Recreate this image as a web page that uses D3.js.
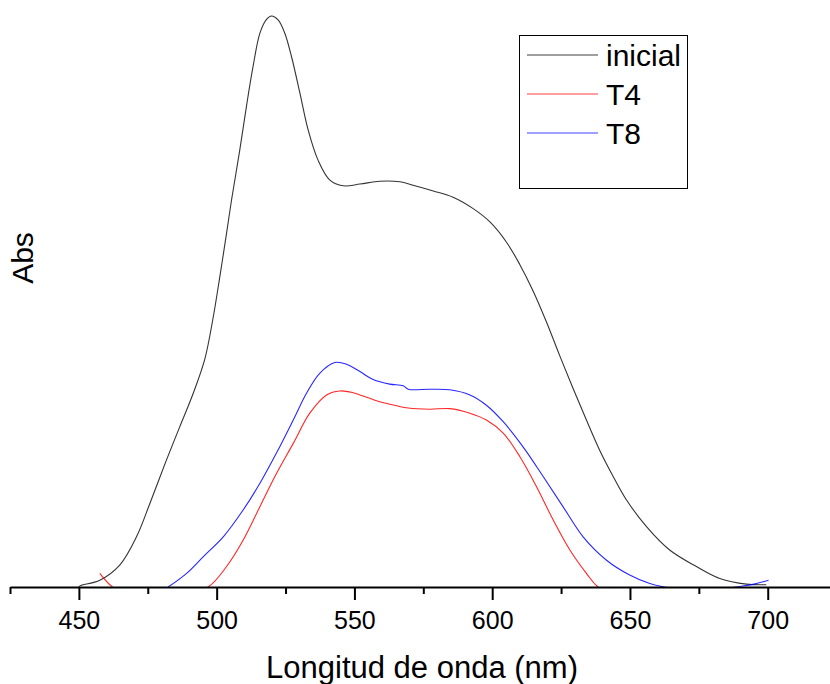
<!DOCTYPE html>
<html>
<head>
<meta charset="utf-8">
<script src="https://cdn.jsdelivr.net/npm/d3@7"></script>
<style>
  body { margin: 0; background: #fff; }
  svg { display: block; font-family: "Liberation Sans", Arial, sans-serif; }
</style>
</head>
<body>
<svg id="chart" width="830" height="684"></svg>
<script>
// wavelengths (nm) and absorbance
const inicial_nm = [450, 450.4, 457.6, 464.9, 470.9, 475.8, 481.8, 486.6, 491.5, 495.7, 498.7, 501.2, 503.6, 505.4, 508.4, 510.8, 513.2, 515.7, 518.1, 519.9, 522.3, 524.7, 527.2, 530.2, 533.2, 536.8, 541.1, 545.9, 552.0, 559.2, 566.5, 571.3, 578.6, 585.8, 593.1, 599.1, 605.2, 610.0, 614.8, 619.7, 624.5, 629.4, 634.2, 639.0, 643.9, 648.7, 656.0, 664.4, 674.1, 682.6, 692.3, 699.5];
const inicial_abs = [0, 0.002, 0.012, 0.039, 0.088, 0.147, 0.223, 0.281, 0.340, 0.400, 0.472, 0.546, 0.621, 0.679, 0.767, 0.843, 0.913, 0.972, 0.996, 1.002, 0.995, 0.972, 0.930, 0.867, 0.802, 0.749, 0.714, 0.704, 0.707, 0.712, 0.711, 0.705, 0.695, 0.684, 0.664, 0.641, 0.605, 0.566, 0.520, 0.465, 0.406, 0.348, 0.293, 0.240, 0.194, 0.153, 0.106, 0.065, 0.036, 0.015, 0.005, 0.004];

const t4_nm = [457.6, 462.2, 470, 485, 496.9, 503.6, 509.6, 515.7, 521.7, 527.8, 533.8, 539.9, 544.7, 549.5, 552.0, 559.2, 565.3, 569.5, 577.4, 584.6, 591.9, 597.9, 604.0, 610.0, 616.1, 622.1, 628.2, 634.2, 638.4, 650, 675, 700];
const t4_abs = [0.024, 0, -0.02, -0.02, 0, 0.036, 0.082, 0.141, 0.199, 0.252, 0.305, 0.337, 0.344, 0.341, 0.337, 0.325, 0.318, 0.314, 0.312, 0.313, 0.305, 0.293, 0.270, 0.229, 0.176, 0.118, 0.065, 0.024, 0, -0.03, -0.04, -0.04];

const t8_nm = [482.4, 489.1, 495.1, 502.4, 509.6, 515.7, 521.7, 527.8, 532.6, 537.4, 542.9, 547.1, 552.0, 556.8, 562.8, 567.7, 569.5, 577.4, 584.6, 591.9, 597.9, 604.0, 611.2, 618.5, 625.7, 633.0, 641.5, 649.9, 657.2, 662.0, 670, 682, 690, 695, 700.3];
const t8_abs = [0, 0.024, 0.053, 0.088, 0.135, 0.182, 0.235, 0.293, 0.340, 0.375, 0.394, 0.391, 0.378, 0.364, 0.356, 0.353, 0.347, 0.347, 0.346, 0.337, 0.319, 0.290, 0.246, 0.194, 0.141, 0.088, 0.047, 0.021, 0.006, 0.0005, -0.004, -0.004, 0.001, 0.005, 0.012];

const series_names = ["inicial", "T4", "T8"];
const series_colors = ["#000000", "#ff0000", "#0000ff"];
const major_ticks = [450, 500, 550, 600, 650, 700];
const minor_ticks = [425, 475, 525, 575, 625, 675];

const svg = d3.select("#chart");
const axis_y = 587;

const x = d3.scaleLinear().domain([425, 722.6]).range([10, 830]);
const y = d3.scaleLinear().domain([0, 1.03]).range([axis_y, 0]);

function zip(nm, ab) {
    return nm.map((d, i) => ({nm: d, abs: ab[i]}));
}
const series = [zip(inicial_nm, inicial_abs), zip(t4_nm, t4_abs), zip(t8_nm, t8_abs)];

// values below zero are hidden under the axis
svg.append("clipPath").attr("id", "plot_clip")
    .append("rect")
    .attr("x", 0).attr("y", 0)
    .attr("width", 830).attr("height", axis_y);

const line = d3.line()
    .x(d => x(d.nm))
    .y(d => y(d.abs))
    .curve(d3.curveCatmullRom.alpha(0.5));

svg.append("g")
    .attr("clip-path", "url(#plot_clip)")
    .selectAll("path")
    .data(series)
    .enter()
    .append("path")
    .attr("d", line)
    .attr("fill", "none")
    .attr("stroke", (d, i) => series_colors[i])
    .attr("stroke-opacity", (d, i) => i == 0 ? 0.8 : 0.85)
    .attr("stroke-width", 1.1);

// x axis: minor ticks first, then major ticks with labels
const g_minor = svg.append("g")
    .attr("transform", "translate(0," + axis_y + ")")
    .call(d3.axisBottom(x).tickValues(minor_ticks).tickSize(7).tickSizeOuter(0).tickFormat(""));
g_minor.select(".domain").remove();
g_minor.selectAll("line").attr("stroke", "#000").attr("stroke-width", 2);

const g_major = svg.append("g")
    .attr("transform", "translate(0," + axis_y + ")")
    .attr("font-size", 25)
    .call(d3.axisBottom(x).tickValues(major_ticks).tickSize(13).tickSizeOuter(0));
g_major.attr("font-size", 25).attr("font-family", "'Liberation Sans', Arial, sans-serif");
g_major.select(".domain").attr("stroke", "#000").attr("stroke-width", 2.2);
g_major.selectAll("line").attr("stroke", "#000").attr("stroke-width", 2);
g_major.selectAll("text")
    .attr("y", 42)
    .attr("dy", null)
    .attr("fill", "#000")
    .style("font-size", "25px");

svg.append("text")
    .attr("x", 422)
    .attr("y", 678)
    .attr("text-anchor", "middle")
    .style("font-size", "31px")
    .text("Longitud de onda (nm)");

svg.append("text")
    .attr("transform", "translate(33,258) rotate(-90)")
    .attr("text-anchor", "middle")
    .style("font-size", "30px")
    .text("Abs");

// legend
const legend = svg.append("g");
legend.append("rect")
    .attr("x", 519.5).attr("y", 35.5)
    .attr("width", 168).attr("height", 153)
    .attr("fill", "#fff")
    .attr("stroke", "#000")
    .attr("stroke-width", 1);

const items = legend.selectAll("g.item")
    .data(series_names)
    .enter()
    .append("g")
    .attr("class", "item")
    .attr("transform", (d, i) => "translate(0," + (55 + i * 39) + ")");

items.append("line")
    .attr("x1", 527).attr("x2", 598)
    .attr("y1", 0).attr("y2", 0)
    .attr("stroke", (d, i) => series_colors[i])
    .attr("stroke-opacity", 0.75)
    .attr("stroke-width", 1.1);

items.append("text")
    .attr("x", 606)
    .attr("y", 11)
    .style("font-size", "30px")
    .text(d => d);
</script>
</body>
</html>
